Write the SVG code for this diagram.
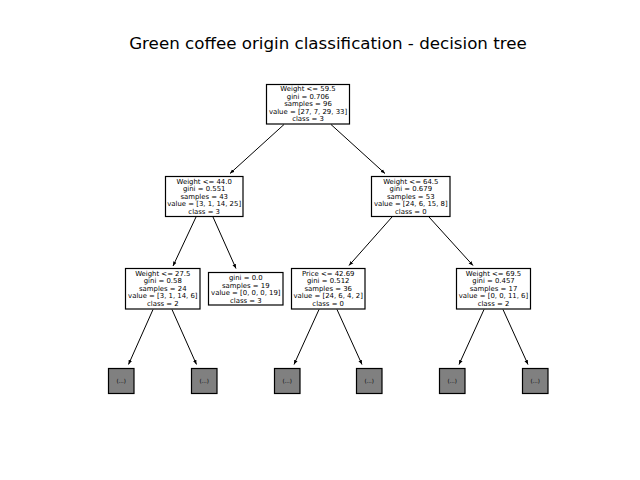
<svg xmlns="http://www.w3.org/2000/svg" width="640" height="480" viewBox="0 0 640 480">
<style>
.box{fill:#ffffff;stroke:#000000;stroke-width:1.2}
.leaf{fill:#808080;stroke:#000000;stroke-width:1.2}
.t{font-family:"DejaVu Sans",sans-serif;font-size:6.9px;fill:#000000;text-anchor:middle}
.lt{font-family:"DejaVu Sans",sans-serif;font-size:5.5px;fill:#000000;text-anchor:middle}
.title{font-family:"DejaVu Sans",sans-serif;font-size:16.7px;fill:#000000;text-anchor:middle}
.e{stroke:#000000;stroke-width:1;fill:none;marker-end:url(#ah)}
</style>
<defs>
<marker id="ah" viewBox="0 0 10 10" refX="10" refY="5" markerWidth="4.5" markerHeight="4.5" markerUnits="userSpaceOnUse" orient="auto">
<path d="M0,1 L10,5 L0,9 Z" fill="#000000"/>
</marker>
</defs>
<rect width="640" height="480" fill="#ffffff"/>
<text class="title" x="328" y="48.5">Green coffee origin classification - decision tree</text>

<g id="edges">
<line class="e" x1="284" y1="124.5" x2="230" y2="173.5"/>
<line class="e" x1="331" y1="124.5" x2="385" y2="173.5"/>
<line class="e" x1="196" y1="217" x2="173" y2="266"/>
<line class="e" x1="213" y1="217" x2="236" y2="268.5"/>
<line class="e" x1="392" y1="217" x2="349" y2="265.5"/>
<line class="e" x1="429" y1="217" x2="473" y2="265.5"/>
<line class="e" x1="153" y1="309.5" x2="128.5" y2="364.5"/>
<line class="e" x1="172" y1="309.5" x2="196.5" y2="364.5"/>
<line class="e" x1="319" y1="309.5" x2="294" y2="364.5"/>
<line class="e" x1="337" y1="309.5" x2="362" y2="364.5"/>
<line class="e" x1="484" y1="309.5" x2="459" y2="364.5"/>
<line class="e" x1="503" y1="309.5" x2="528" y2="364.5"/>
</g>

<g id="n0">
<rect class="box" x="266.5" y="84.5" width="83" height="39.5"/>
<text class="t" x="308" y="91.2">Weight &lt;= 59.5</text>
<text class="t" x="308" y="98.7">gini = 0.706</text>
<text class="t" x="308" y="106.2">samples = 96</text>
<text class="t" x="308" y="113.7">value = [27, 7, 29, 33]</text>
<text class="t" x="308" y="121.2">class = 3</text>
</g>

<g id="n1">
<rect class="box" x="165.5" y="176.5" width="77.5" height="40"/>
<text class="t" x="204.2" y="183.5">Weight &lt;= 44.0</text>
<text class="t" x="204.2" y="191">gini = 0.551</text>
<text class="t" x="204.2" y="198.5">samples = 43</text>
<text class="t" x="204.2" y="206">value = [3, 1, 14, 25]</text>
<text class="t" x="204.2" y="213.5">class = 3</text>
</g>

<g id="n2">
<rect class="box" x="371.5" y="176.5" width="78.5" height="40"/>
<text class="t" x="410.8" y="183.5">Weight &lt;= 64.5</text>
<text class="t" x="410.8" y="191">gini = 0.679</text>
<text class="t" x="410.8" y="198.5">samples = 53</text>
<text class="t" x="410.8" y="206">value = [24, 6, 15, 8]</text>
<text class="t" x="410.8" y="213.5">class = 0</text>
</g>

<g id="n3">
<rect class="box" x="125.5" y="268.5" width="74.5" height="40.5"/>
<text class="t" x="162.8" y="275.7">Weight &lt;= 27.5</text>
<text class="t" x="162.8" y="283.2">gini = 0.58</text>
<text class="t" x="162.8" y="290.7">samples = 24</text>
<text class="t" x="162.8" y="298.2">value = [3, 1, 14, 6]</text>
<text class="t" x="162.8" y="305.7">class = 2</text>
</g>

<g id="n4">
<rect class="box" x="208.5" y="272.5" width="74.5" height="32.5"/>
<text class="t" x="245.8" y="280">gini = 0.0</text>
<text class="t" x="245.8" y="287.5">samples = 19</text>
<text class="t" x="245.8" y="295">value = [0, 0, 0, 19]</text>
<text class="t" x="245.8" y="302.5">class = 3</text>
</g>

<g id="n5">
<rect class="box" x="291.5" y="268.5" width="73.5" height="40.5"/>
<text class="t" x="328.2" y="275.7">Price &lt;= 42.69</text>
<text class="t" x="328.2" y="283.2">gini = 0.512</text>
<text class="t" x="328.2" y="290.7">samples = 36</text>
<text class="t" x="328.2" y="298.2">value = [24, 6, 4, 2]</text>
<text class="t" x="328.2" y="305.7">class = 0</text>
</g>

<g id="n6">
<rect class="box" x="456.5" y="268.5" width="74" height="40.5"/>
<text class="t" x="493.5" y="275.7">Weight &lt;= 69.5</text>
<text class="t" x="493.5" y="283.2">gini = 0.457</text>
<text class="t" x="493.5" y="290.7">samples = 17</text>
<text class="t" x="493.5" y="298.2">value = [0, 0, 11, 6]</text>
<text class="t" x="493.5" y="305.7">class = 2</text>
</g>

<g id="l1"><rect class="leaf" x="108.5" y="368.5" width="25.5" height="25"/><text class="lt" x="121.2" y="382.8">(...)</text></g>
<g id="l2"><rect class="leaf" x="191.5" y="368.5" width="25.5" height="25"/><text class="lt" x="204.2" y="382.8">(...)</text></g>
<g id="l3"><rect class="leaf" x="274.5" y="368.5" width="25.5" height="25"/><text class="lt" x="287.2" y="382.8">(...)</text></g>
<g id="l4"><rect class="leaf" x="356.5" y="368.5" width="25.5" height="25"/><text class="lt" x="369.2" y="382.8">(...)</text></g>
<g id="l5"><rect class="leaf" x="439.5" y="368.5" width="25.5" height="25"/><text class="lt" x="452.2" y="382.8">(...)</text></g>
<g id="l6"><rect class="leaf" x="522.5" y="368.5" width="25.5" height="25"/><text class="lt" x="535.2" y="382.8">(...)</text></g>
</svg>
